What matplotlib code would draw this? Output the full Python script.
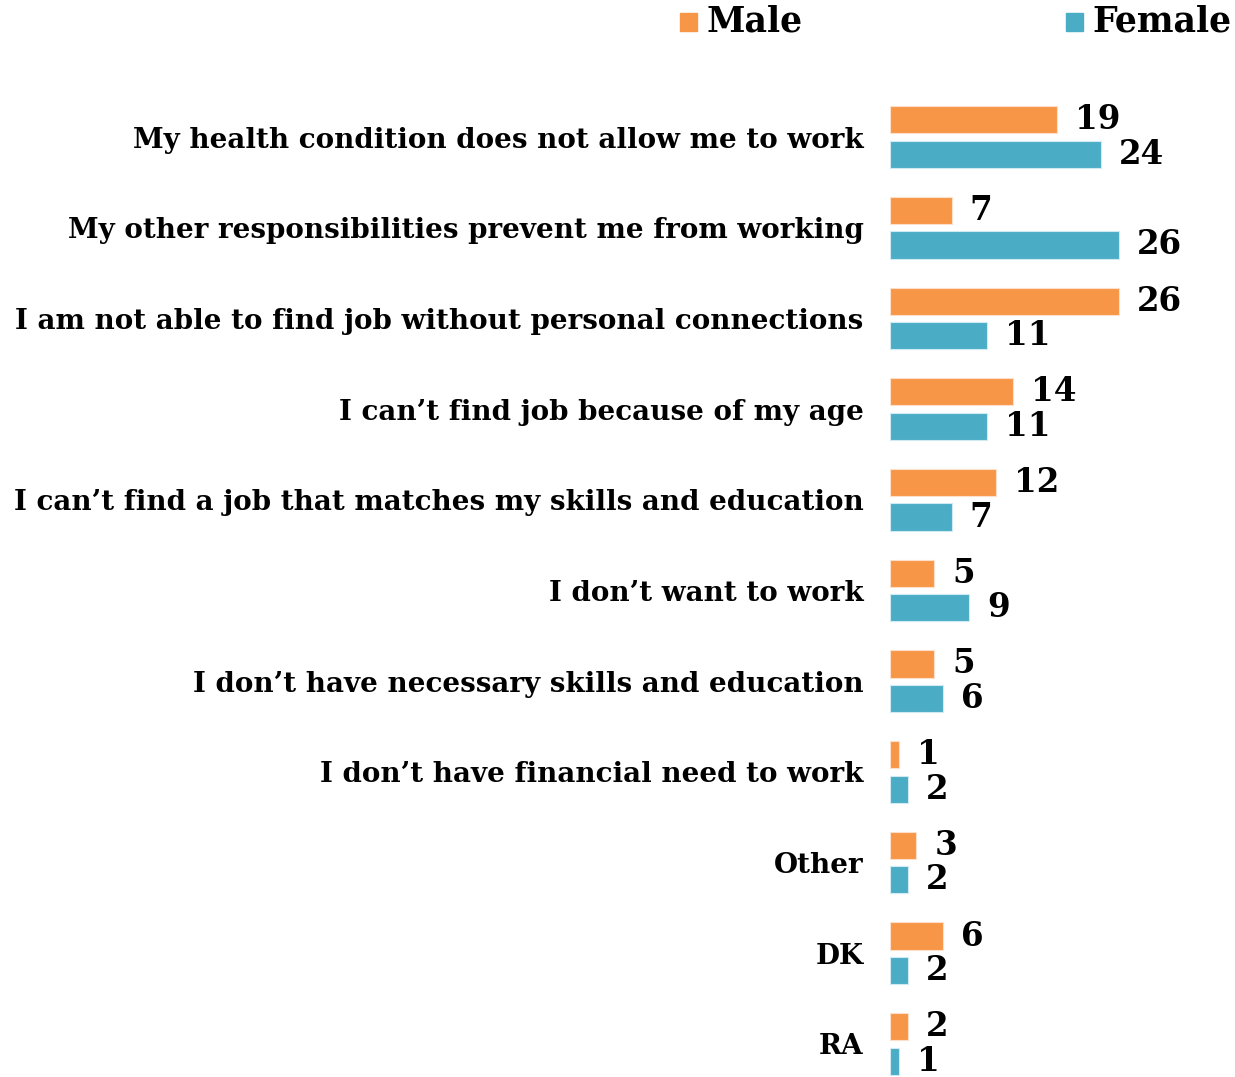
import matplotlib
matplotlib.use("Agg")
import matplotlib.pyplot as plt
from matplotlib.patches import Rectangle

categories = [
    "My health condition does not allow me to work",
    "My other responsibilities prevent me from working",
    "I am not able to find job without personal connections",
    "I can\u2019t find job because of my age",
    "I can\u2019t find a job that matches my skills and education",
    "I don\u2019t want to work",
    "I don\u2019t have necessary skills and education",
    "I don\u2019t have financial need to work",
    "Other",
    "DK",
    "RA",
]
male = [19, 7, 26, 14, 12, 5, 5, 1, 3, 6, 2]
female = [24, 26, 11, 11, 7, 9, 6, 2, 2, 2, 1]

MALE_COLOR = "#F79646"
FEMALE_COLOR = "#4BACC6"
FONT = "DejaVu Serif"

W, H = 1235, 1077
fig = plt.figure(figsize=(W / 100, H / 100), dpi=100)
ax = fig.add_axes([890 / W, 1 - 1075.7 / H, (W - 890) / W, 984 / H])

y = list(range(len(categories)))
bh = 0.3
off = 0.19
ym = [v - off for v in y]
yf = [v + off for v in y]
ax.barh(ym, male, height=bh, color=MALE_COLOR, edgecolor="#FCE0CC", linewidth=0.8)
ax.barh(yf, female, height=bh, color=FEMALE_COLOR, edgecolor="#CFEAF1", linewidth=0.8)

for yy, v in zip(ym, male):
    ax.annotate(str(v), (v, yy), xytext=(13, 0), textcoords="offset points",
                ha="left", va="center", fontsize=23.5, fontweight="bold", family=FONT)
for yy, v in zip(yf, female):
    ax.annotate(str(v), (v, yy), xytext=(13, 0), textcoords="offset points",
                ha="left", va="center", fontsize=23.5, fontweight="bold", family=FONT)

ax.set_xlim(0, 39.2)
ax.set_ylim(10.35, -0.5)
ax.set_yticks(y)
ax.set_yticklabels(categories, fontsize=20, fontweight="bold", family=FONT)
ax.tick_params(axis="y", length=0, pad=19)
ax.set_xticks([])
for s in ax.spines.values():
    s.set_visible(False)

# legend
for x0, col, lab in [(680, MALE_COLOR, "Male"), (1066, FEMALE_COLOR, "Female")]:
    fig.patches.append(Rectangle((x0 / W, 1 - 31 / H), 17 / W, 18 / H,
                                 transform=fig.transFigure, color=col))
    fig.text((x0 + 26) / W, 1 - 22 / H, lab, ha="left", va="center",
             fontsize=25, fontweight="bold", family=FONT)

fig.savefig("out.png", dpi=100)
